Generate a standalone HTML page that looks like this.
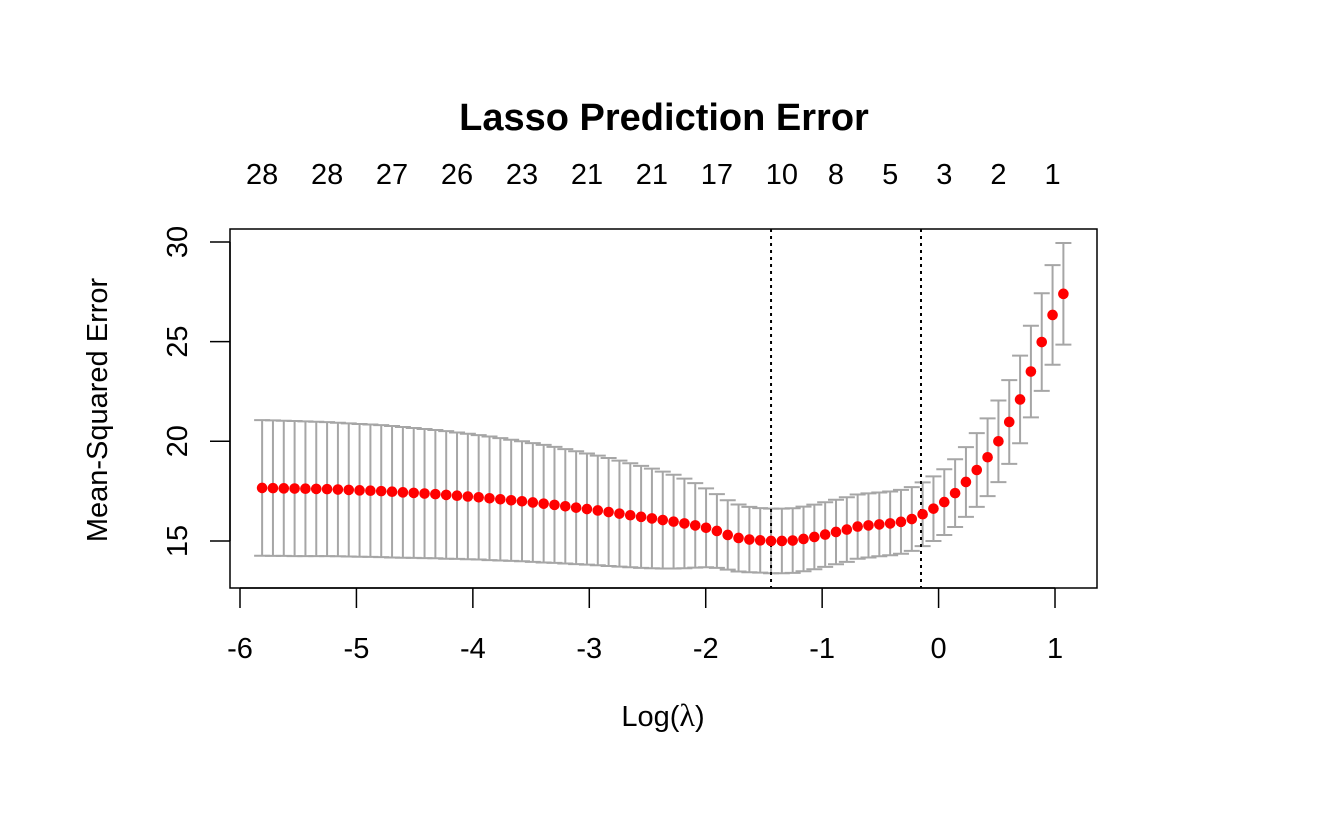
<!DOCTYPE html>
<html><head><meta charset="utf-8">
<style>html,body{margin:0;padding:0;background:#fff}svg{display:block;font-family:"Liberation Sans",Arial,sans-serif}</style>
</head><body>
<svg id="chart" width="1326" height="819" viewBox="0 0 1326 819">
<text x="664" y="130" text-anchor="middle" font-size="38" font-weight="bold">Lasso Prediction Error</text>
<text x="663" y="726" text-anchor="middle" font-size="29">Log(<tspan font-family="Liberation Serif, serif" font-size="32">λ</tspan>)</text>
<text transform="translate(107,410) rotate(-90)" text-anchor="middle" font-size="29">Mean-Squared Error</text>
<rect x="230" y="229" width="867" height="359" fill="none" stroke="#000" stroke-width="1.5"/>
<g id="marks"></g>
</svg>
<script>
const logLambdaStart = -5.81;
const logLambdaStep = 0.093;
const meanError = [17.66,17.65,17.64,17.63,17.62,17.61,17.60,17.58,17.56,17.54,
17.52,17.50,17.47,17.44,17.41,17.38,17.35,17.31,17.27,17.23,
17.19,17.14,17.09,17.04,16.99,16.93,16.87,16.81,16.74,16.67,
16.60,16.53,16.45,16.37,16.29,16.21,16.13,16.05,15.97,15.88,
15.78,15.66,15.50,15.30,15.15,15.07,15.03,15.00,15.00,15.02,
15.10,15.20,15.32,15.45,15.57,15.72,15.78,15.83,15.88,15.96,
16.10,16.34,16.62,16.95,17.40,17.96,18.56,19.20,20.00,20.97,
22.10,23.50,24.98,26.34,27.40];
const stdError = [3.40,3.40,3.39,3.39,3.38,3.37,3.36,3.35,3.34,3.33,
3.32,3.31,3.30,3.28,3.26,3.24,3.22,3.20,3.17,3.15,
3.12,3.10,3.07,3.04,3.01,2.98,2.95,2.91,2.87,2.83,
2.79,2.75,2.71,2.66,2.61,2.56,2.50,2.43,2.35,2.25,
2.12,1.98,1.85,1.74,1.68,1.64,1.62,1.62,1.62,1.62,
1.62,1.62,1.62,1.62,1.62,1.61,1.61,1.60,1.60,1.60,
1.60,1.60,1.62,1.65,1.70,1.75,1.85,1.95,2.05,2.10,
2.20,2.30,2.45,2.50,2.55];
const nzIndex = [0,6,12,18,24,30,36,42,48,53,58,63,68,73];
const nzLabels = ["28","28","27","26","23","21","21","17","10","8","5","3","2","1"];
const xTicks = [-6,-5,-4,-3,-2,-1,0,1];
const yTicks = [15,20,25,30];
const vLines = [-1.439,-0.151];

const sx = v => 240 + (v + 6) * 116.43;
const sy = v => 242 + (30 - v) * 19.93;
const NS = "http://www.w3.org/2000/svg";
const g = document.getElementById("marks");
function mk(tag, attrs, parent) {
  const e = document.createElementNS(NS, tag);
  for (const k in attrs) e.setAttribute(k, attrs[k]);
  (parent || g).appendChild(e);
  return e;
}
const xa = mk("line", {x1: sx(xTicks[0]), x2: sx(xTicks[xTicks.length-1]), y1: 588, y2: 588, stroke: "#000", "stroke-width": 1.5});


xTicks.forEach(t => {
  const l = mk("line", {x1: sx(t), x2: sx(t), y1: 588, y2: 608, stroke: "#000", "stroke-width": 1.5});
  
  
  const tx = mk("text", {x: sx(t), y: 658, "text-anchor": "middle", "font-size": 29});
  tx.textContent = t;
  
  
});
const ya = mk("line", {x1: 230, x2: 230, y1: sy(yTicks[0]), y2: sy(yTicks[yTicks.length-1]), stroke: "#000", "stroke-width": 1.5});


yTicks.forEach(t => {
  const l = mk("line", {x1: 210, x2: 230, y1: sy(t), y2: sy(t), stroke: "#000", "stroke-width": 1.5});
  
  
  const tx = mk("text", {transform: `translate(187,${sy(t)}) rotate(-90)`, "text-anchor": "middle", "font-size": 29});
  tx.textContent = t;
  
  
});
nzIndex.forEach((idx, i) => {
  const tx = mk("text", {x: sx(logLambdaStart + idx * logLambdaStep), y: 184, "text-anchor": "middle", "font-size": 29});
  tx.textContent = nzLabels[i];
  
  
});
meanError.forEach((m, i) => {
  const x = sx(logLambdaStart + i * logLambdaStep);
  const up = sy(m + stdError[i]), lo = sy(m - stdError[i]);
  const eb = mk("g", {stroke: "#a6a6a6", "stroke-width": 2});
  
  
  mk("line", {x1: x, x2: x, y1: up, y2: lo}, eb);
  mk("line", {x1: x - 8, x2: x + 8, y1: up, y2: up}, eb);
  mk("line", {x1: x - 8, x2: x + 8, y1: lo, y2: lo}, eb);
});
vLines.forEach(v => {
  const l = mk("line", {x1: sx(v), x2: sx(v), y1: 229, y2: 588, stroke: "#000", "stroke-width": 2, "stroke-dasharray": "3,4"});
  
  
});
meanError.forEach((m, i) => {
  const c = mk("circle", {cx: sx(logLambdaStart + i * logLambdaStep), cy: sy(m), r: 5.3, fill: "#ff0000"});
  
  
});
</script>
</body></html>
